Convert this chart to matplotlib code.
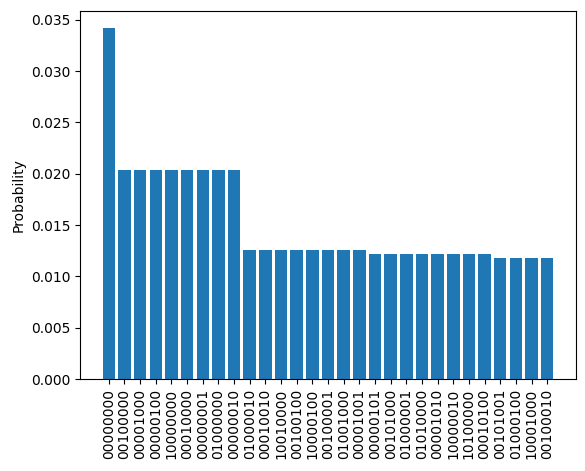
import numpy as np
import matplotlib
matplotlib.use("Agg")
import matplotlib.pyplot as plt

states = [
    "00000000", "00100000", "00001000", "00000100", "10000000", "00010000",
    "00000001", "01000000", "00000010", "01000010", "00010010", "10010000",
    "00100100", "10000100", "00100001", "01001000", "00001001", "00000101",
    "00101000", "01000001", "01010000", "00001010", "10000010", "10100000",
    "00010100", "00101001", "01000100", "10001000", "00100010",
]
probs = [0.03418] + [0.02034] * 8 + [0.01255] * 8 + [0.01216] * 8 + [0.01177] * 4

fig = plt.figure(figsize=(5.85, 4.71), dpi=100)
ax = fig.add_axes([0.1368, 0.1953, 0.8478, 0.7820])
ax.bar(np.arange(len(states)), probs, color="#1f77b4")
ax.set_xticks(np.arange(len(states)))
ax.set_xticklabels(states, rotation=90)
ax.set_ylabel("Probability")

fig.savefig("out.png", dpi=100)
